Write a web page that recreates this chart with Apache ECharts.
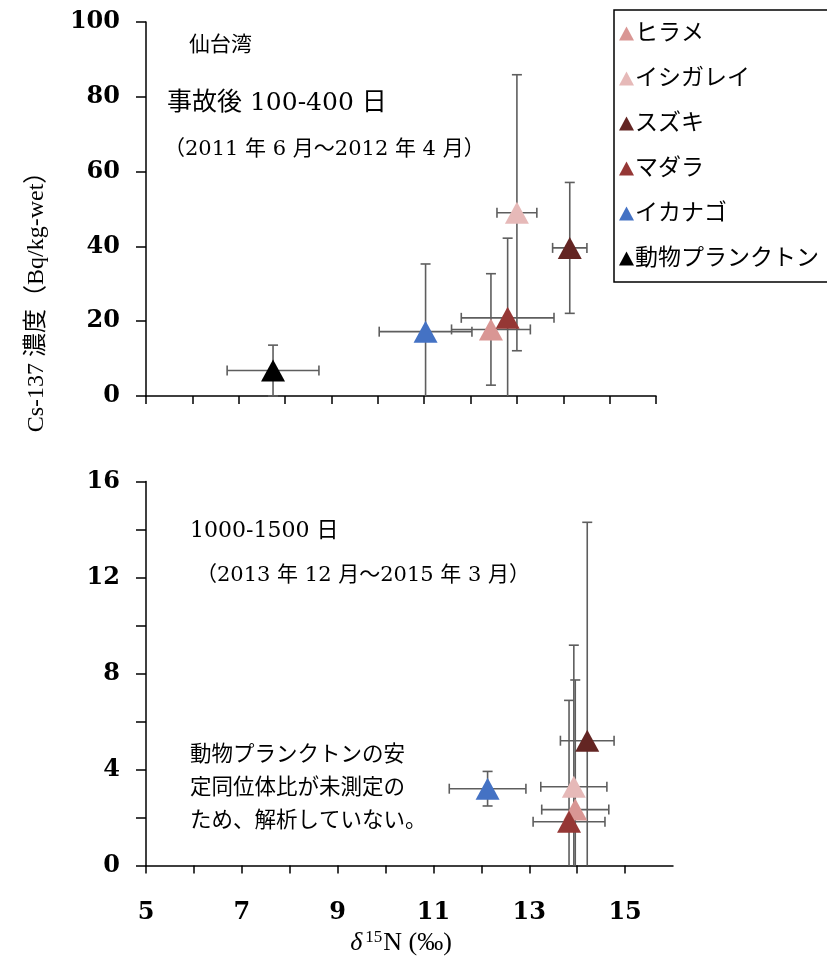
<!DOCTYPE html>
<html>
<head>
<meta charset="utf-8">
<script src="https://cdn.jsdelivr.net/npm/echarts@6/dist/echarts.min.js"></script>
<style>
html,body{margin:0;padding:0;background:#fff;}
#chart{width:827px;height:964px;}
</style>
</head>
<body>
<div id="chart"></div>
<script>
// ---- data ----
const speciesNames = ['ヒラメ', 'イシガレイ', 'スズキ', 'マダラ', 'イカナゴ', '動物プランクトン'];
const speciesColors = ['#d99694', '#e6b9b8', '#632523', '#953735', '#4472c4', '#000000'];

// Top panel: 100-400 days after accident
const topX    = [12.44, 13.00, 14.14, 12.80, 11.03, 7.74];
const topY    = [17.8, 49.0, 39.6, 20.9, 17.2, 6.8];
const topXErr = [0.85, 0.43, 0.37, 1.00, 1.00, 0.99];
const topYErr = [14.9, 36.9, 17.5, 21.3, 18.1, 6.8];

// Bottom panel: 1000-1500 days (no zooplankton)
const botX    = [13.96, 13.93, 14.21, 13.83, 12.13];
const botY    = [2.33, 3.28, 5.20, 1.82, 3.20];
const botXErr = [0.70, 0.69, 0.56, 0.75, 0.80];
const botYErr = [5.40, 5.90, 9.10, 5.06, 0.72];

const topYTicks = [0, 20, 40, 60, 80, 100];
const botYTicks = [0, 4, 8, 12, 16];
const xTicks = [5, 7, 9, 11, 13, 15];

// ---- chart ----
const jp = "'DejaVu Serif', 'Noto Sans CJK JP', serif";
const jpL = "'Liberation Serif', 'Noto Sans CJK JP', serif";
const chart = echarts.init(document.getElementById('chart'));

function errRender(yMin) {
  return function (params, api) {
    const x = api.value(0), y = api.value(1), xe = api.value(2), ye = api.value(3);
    const cap = 5;
    const style = { stroke: '#5e5e5e', lineWidth: 1.6 };
    const lines = [];
    const yTopV = y + ye;
    let yBotV = y - ye;
    const clipped = yBotV < yMin;
    if (clipped) yBotV = yMin;
    const pT = api.coord([x, yTopV]);
    const pB = api.coord([x, yBotV]);
    const pL = api.coord([x - xe, y]);
    const pR = api.coord([x + xe, y]);
    lines.push({ type: 'line', shape: { x1: pT[0], y1: pT[1], x2: pB[0], y2: pB[1] }, style });
    lines.push({ type: 'line', shape: { x1: pT[0] - cap, y1: pT[1], x2: pT[0] + cap, y2: pT[1] }, style });
    if (!clipped) lines.push({ type: 'line', shape: { x1: pB[0] - cap, y1: pB[1], x2: pB[0] + cap, y2: pB[1] }, style });
    lines.push({ type: 'line', shape: { x1: pL[0], y1: pL[1], x2: pR[0], y2: pR[1] }, style });
    lines.push({ type: 'line', shape: { x1: pL[0], y1: pL[1] - cap, x2: pL[0], y2: pL[1] + cap }, style });
    lines.push({ type: 'line', shape: { x1: pR[0], y1: pR[1] - cap, x2: pR[0], y2: pR[1] + cap }, style });
    return { type: 'group', children: lines };
  };
}

const series = [];
// error bars
series.push({
  type: 'custom', xAxisIndex: 0, yAxisIndex: 0, z: 1, silent: true,
  renderItem: errRender(0),
  encode: { x: 0, y: 1 },
  data: topX.map((v, i) => [v, topY[i], topXErr[i], topYErr[i]])
});
series.push({
  type: 'custom', xAxisIndex: 1, yAxisIndex: 1, z: 1, silent: true,
  renderItem: errRender(0),
  encode: { x: 0, y: 1 },
  data: botX.map((v, i) => [v, botY[i], botXErr[i], botYErr[i]])
});
// markers
speciesNames.forEach((name, i) => {
  series.push({
    name, type: 'scatter', xAxisIndex: 0, yAxisIndex: 0, z: 5,
    symbol: 'triangle', symbolSize: [24, 22],
    itemStyle: { color: speciesColors[i], opacity: 1 },
    data: [[topX[i], topY[i]]]
  });
  if (i < botX.length) {
    series.push({
      name, type: 'scatter', xAxisIndex: 1, yAxisIndex: 1, z: 5,
      symbol: 'triangle', symbolSize: [24, 22],
      itemStyle: { color: speciesColors[i], opacity: 1 },
      data: [[botX[i], botY[i]]]
    });
  }
});

const axisLine = { show: true, lineStyle: { color: '#000', width: 1.5 } };
const tickLabel = { fontFamily: "'DejaVu Serif', serif", fontWeight: 'bold', fontSize: 24, color: '#000' };

const option = {
  animation: false,
  backgroundColor: '#fff',
  grid: [
    { left: 146, top: 22, width: 510, height: 374 },
    { left: 146, top: 481.5, width: 527, height: 384 }
  ],
  xAxis: [
    { gridIndex: 0, type: 'value', min: 5, max: 16, interval: 1,
      axisLine, splitLine: { show: false },
      axisTick: { show: true, length: 8, lineStyle: { color: '#000', width: 1.5 } },
      axisLabel: { show: false } },
    { gridIndex: 1, type: 'value', min: 5, max: 16, interval: 1,
      axisLine, splitLine: { show: false },
      axisTick: { show: true, length: 8, lineStyle: { color: '#000', width: 1.5 } },
      axisLabel: Object.assign({ margin: 35, formatter: v => xTicks.includes(v) ? String(v) : '' , showMaxLabel: false}, tickLabel) }
  ],
  yAxis: [
    { gridIndex: 0, type: 'value', min: 0, max: 100, interval: 20,
      axisLine, splitLine: { show: false },
      axisTick: { show: true, length: 10, lineStyle: { color: '#000', width: 1.5 } },
      axisLabel: Object.assign({ margin: 26, formatter: v => topYTicks.includes(v) ? String(v) : '' }, tickLabel) },
    { gridIndex: 1, type: 'value', min: 0, max: 16, interval: 2,
      axisLine, splitLine: { show: false },
      axisTick: { show: true, length: 10, lineStyle: { color: '#000', width: 1.5 } },
      axisLabel: Object.assign({ margin: 26, formatter: v => botYTicks.includes(v) ? String(v) : '' }, tickLabel) }
  ],
  legend: {
    orient: 'vertical', left: 614, top: 10,
    data: speciesNames,
    icon: 'triangle', itemWidth: 15, itemHeight: 14, itemGap: 22,
    backgroundColor: '#fff', borderColor: '#000', borderWidth: 1.5, borderRadius: 0,
    padding: [12, 30, 12, 5],
    textStyle: { fontFamily: jpL, fontSize: 23, color: '#000', padding: [0, 0, 0, -4] },
    selectedMode: false
  },
  graphic: [
    { type: 'text', left: 189, top: 35, style: { text: '仙台湾', font: "21px " + jp, fill: '#000' } },
    { type: 'text', left: 167, top: 91, style: { text: '事故後 100-400 日', font: "25px " + jp, fill: '#000' } },
    { type: 'text', left: 164, top: 139, style: { text: '（2011 年 6 月～2012 年 4 月）', font: "21px " + jp, fill: '#000' } },
    { type: 'text', left: 190, top: 520, style: { text: '1000-1500 日', font: "22px " + jp, fill: '#000' } },
    { type: 'text', left: 196, top: 565, style: { text: '（2013 年 12 月～2015 年 3 月）', font: "21px " + jp, fill: '#000' } },
    { type: 'text', left: 190, top: 739, style: { text: '動物プランクトンの安\n定同位体比が未測定の\nため、解析していない。', font: "21.5px " + jpL, lineHeight: 33, fill: '#000' } },
    { type: 'text', x: 37, y: 296, rotation: Math.PI / 2,
      style: { text: 'Cs-137 濃度（Bq/kg-wet）', font: "24px " + jpL, fill: '#000', align: 'center', verticalAlign: 'middle' } },
    { type: 'text', x: 401, y: 943,
      style: { text: '{d|δ}{s|15}{n|N (‰)}', align: 'center', verticalAlign: 'middle',
        rich: {
          d: { fontFamily: jpL, fontStyle: 'italic', fontSize: 26, color: '#000' },
          s: { fontFamily: jpL, fontSize: 17, color: '#000', verticalAlign: 'top', padding: [0, 1, 10, 3] },
          n: { fontFamily: jpL, fontSize: 26, color: '#000' }
        } } }
  ],
  series
};
chart.setOption(option);
</script>
</body>
</html>
